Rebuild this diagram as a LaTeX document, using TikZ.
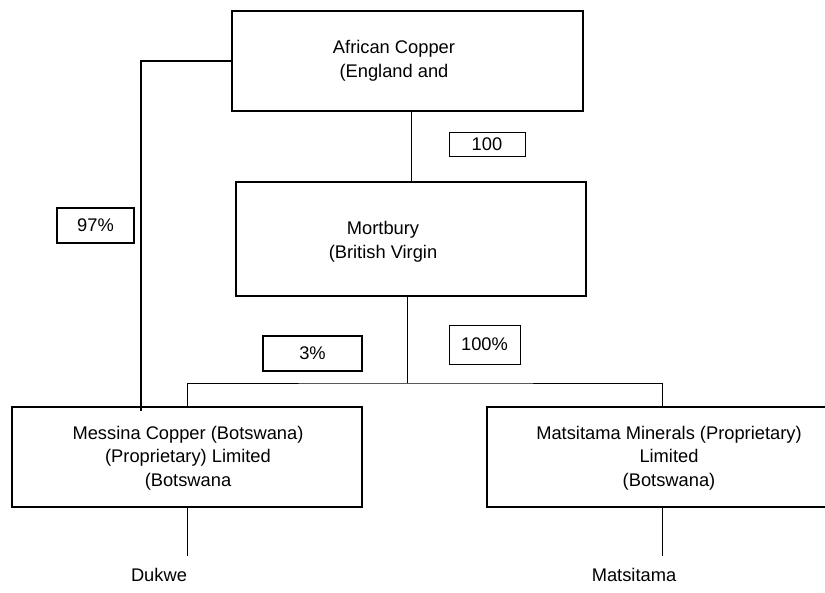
\documentclass[tikz,border=0pt]{standalone}
\usepackage{fontspec}
\setmainfont{Liberation Sans}
\usetikzlibrary{positioning}

\begin{document}
\begin{tikzpicture}[x=1pt,y=-1pt,
    orgbox/.style={draw, line width=1.2pt, inner sep=0pt},
    boxtext/.style={align=center, font=\fontsize{18.3}{23.5}\selectfont},
    pctbox/.style={draw, inner sep=0pt, font=\fontsize{18.3}{22}\selectfont},
    thin link/.style={line width=0.9pt},
    thick link/.style={line width=2pt}]

    \useasboundingbox (0,0) rectangle (825,592);
    \clip (0,0) rectangle (825,592);

    % Parent company
    \node[orgbox, minimum width=351pt, minimum height=100pt] (ac) at (407.5,61) {};
    \node[boxtext] (actext) at (394,61) {African Copper\\(England and};

    % Holding company
    \node[orgbox, minimum width=350pt, minimum height=114pt] (mb) at (411,239) {};
    \node[boxtext] (mbtext) at (383,242) {Mortbury\\(British Virgin};

    % Operating companies
    \node[orgbox, minimum width=350pt, minimum height=100pt] (mc) at (187,457) {};
    \node[boxtext] (mctext) at (188,458) {Messina Copper (Botswana)\\(Proprietary) Limited\\(Botswana};

    \node[orgbox, minimum width=350pt, minimum height=100pt] (mm) at (662,457) {};
    \node[boxtext] (mmtext) at (669,458) {Matsitama Minerals (Proprietary)\\Limited\\(Botswana)};

    % Sites
    \node[boxtext] (dk) at (159,575) {Dukwe};
    \node[boxtext] (mt) at (634,575) {Matsitama};

    % Shareholding labels
    \node[pctbox, line width=0.9pt, minimum width=76pt, minimum height=24pt] (p100a) at (487,144) {100\hspace{6pt}};
    \node[pctbox, line width=2pt, minimum width=77pt, minimum height=35pt] (p97) at (95.5,225.5) {97\%};
    \node[pctbox, line width=2pt, minimum width=99pt, minimum height=35pt] (p3) at (312.5,353.5) {3\%};
    \node[pctbox, line width=0.9pt, minimum width=71pt, minimum height=39pt] (p100b) at (484.5,344.5) {100\%};

    % Connectors
    \coordinate (elbow) at (141,61);
    \coordinate (split) at (407,383);
    \coordinate (dkend) at (187,556);
    \coordinate (mtend) at (662,556);

    \draw[thick link] (ac.west) -- (elbow) -- ([yshift=-5pt]elbow |- mc.north);
    \draw[thin link] (ac.south -| mb.north) -- (mb.north);
    \draw[thin link] (mb.south -| split) -- (split);
    \draw[thin link] (mc.north) |- (split) -| (mm.north);
    \draw[thin link] (mc.south) -- (dkend);
    \draw[thin link] (mm.south) -- (mtend);

\end{tikzpicture}
\end{document}
